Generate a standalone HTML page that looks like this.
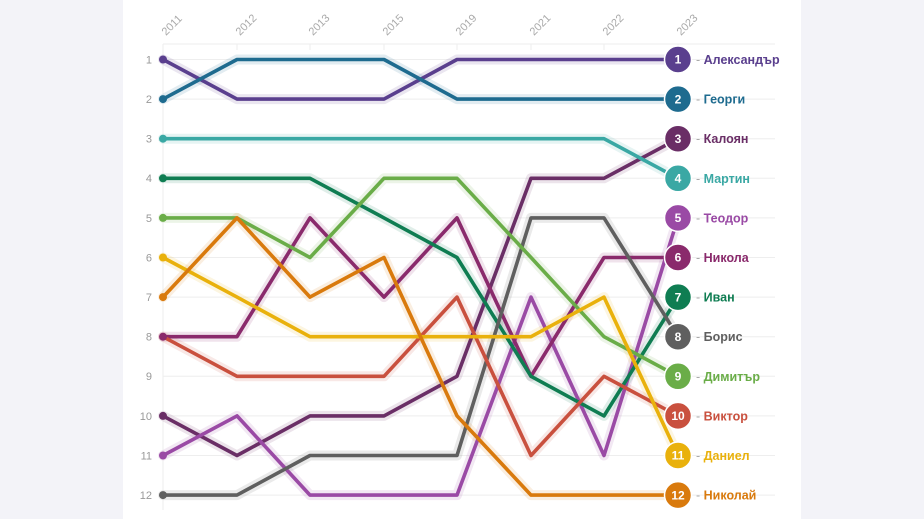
<!DOCTYPE html>
<html><head><meta charset="utf-8"><style>
html,body{margin:0;padding:0;background:#f3f3f8;}
svg{display:block;font-family:"Liberation Sans","DejaVu Sans",sans-serif;}
</style></head><body>
<svg width="924" height="519" viewBox="0 0 924 519" xmlns="http://www.w3.org/2000/svg">
<rect x="0" y="0" width="924" height="519" fill="#f3f3f8"/>
<rect x="123" y="0" width="678" height="519" fill="#ffffff"/>
<g stroke="#eeeeee" stroke-width="1">
<line x1="163" y1="44" x2="775" y2="44"/>
<line x1="163" y1="59.5" x2="775" y2="59.5"/><line x1="163" y1="99.1" x2="775" y2="99.1"/><line x1="163" y1="138.7" x2="775" y2="138.7"/><line x1="163" y1="178.3" x2="775" y2="178.3"/><line x1="163" y1="217.9" x2="775" y2="217.9"/><line x1="163" y1="257.5" x2="775" y2="257.5"/><line x1="163" y1="297.1" x2="775" y2="297.1"/><line x1="163" y1="336.7" x2="775" y2="336.7"/><line x1="163" y1="376.3" x2="775" y2="376.3"/><line x1="163" y1="415.9" x2="775" y2="415.9"/><line x1="163" y1="455.5" x2="775" y2="455.5"/><line x1="163" y1="495.1" x2="775" y2="495.1"/>
<line x1="163" y1="44" x2="163" y2="510"/>
<line x1="237" y1="44" x2="237" y2="50"/><line x1="310" y1="44" x2="310" y2="50"/><line x1="384" y1="44" x2="384" y2="50"/><line x1="457" y1="44" x2="457" y2="50"/><line x1="531" y1="44" x2="531" y2="50"/><line x1="604" y1="44" x2="604" y2="50"/><line x1="678" y1="44" x2="678" y2="50"/>
</g>
<g fill="#aaaaaa" font-size="11">
<text transform="translate(166,36) rotate(-45)">2011</text>
<text transform="translate(240,36) rotate(-45)">2012</text>
<text transform="translate(313,36) rotate(-45)">2013</text>
<text transform="translate(387,36) rotate(-45)">2015</text>
<text transform="translate(460,36) rotate(-45)">2019</text>
<text transform="translate(534,36) rotate(-45)">2021</text>
<text transform="translate(607,36) rotate(-45)">2022</text>
<text transform="translate(681,36) rotate(-45)">2023</text>
</g>
<g fill="#999999" font-size="11" text-anchor="end">
<text x="152" y="63.5">1</text><text x="152" y="103">2</text><text x="152" y="142.5">3</text><text x="152" y="182">4</text><text x="152" y="222">5</text><text x="152" y="261.5">6</text><text x="152" y="301">7</text><text x="152" y="340.5">8</text><text x="152" y="380">9</text><text x="152" y="420">10</text><text x="152" y="459.5">11</text><text x="152" y="499">12</text>
</g>
<g fill="none" stroke-linejoin="round" stroke-linecap="round">
<g stroke-width="10" stroke-opacity="0.13">
<polyline stroke="#5a3f8e" points="163,59.5 237,99.1 310,99.1 384,99.1 457,59.5 531,59.5 604,59.5 678,59.5"/>
<polyline stroke="#1e6b8f" points="163,99.1 237,59.5 310,59.5 384,59.5 457,99.1 531,99.1 604,99.1 678,99.1"/>
<polyline stroke="#6a2e66" points="163,415.9 237,455.5 310,415.9 384,415.9 457,376.3 531,178.3 604,178.3 678,138.7"/>
<polyline stroke="#3aa8a4" points="163,138.7 237,138.7 310,138.7 384,138.7 457,138.7 531,138.7 604,138.7 678,178.3"/>
<polyline stroke="#9a4aa5" points="163,455.5 237,415.9 310,495.1 384,495.1 457,495.1 531,297.1 604,455.5 678,217.9"/>
<polyline stroke="#8a2a6c" points="163,336.7 237,336.7 310,217.9 384,297.1 457,217.9 531,376.3 604,257.5 678,257.5"/>
<polyline stroke="#0f7d52" points="163,178.3 237,178.3 310,178.3 384,217.9 457,257.5 531,376.3 604,415.9 678,297.1"/>
<polyline stroke="#5f5f5f" points="163,495.1 237,495.1 310,455.5 384,455.5 457,455.5 531,217.9 604,217.9 678,336.7"/>
<polyline stroke="#6aad48" points="163,217.9 237,217.9 310,257.5 384,178.3 457,178.3 531,257.5 604,336.7 678,376.3"/>
<polyline stroke="#c9503e" points="163,336.7 237,376.3 310,376.3 384,376.3 457,297.1 531,455.5 604,376.3 678,415.9"/>
<polyline stroke="#e9b10c" points="163,257.5 237,297.1 310,336.7 384,336.7 457,336.7 531,336.7 604,297.1 678,455.5"/>
<polyline stroke="#d97a0d" points="163,297.1 237,217.9 310,297.1 384,257.5 457,415.9 531,495.1 604,495.1 678,495.1"/>
</g>
<g stroke-width="3.6">
<polyline stroke="#5a3f8e" points="163,59.5 237,99.1 310,99.1 384,99.1 457,59.5 531,59.5 604,59.5 678,59.5"/>
<polyline stroke="#1e6b8f" points="163,99.1 237,59.5 310,59.5 384,59.5 457,99.1 531,99.1 604,99.1 678,99.1"/>
<polyline stroke="#6a2e66" points="163,415.9 237,455.5 310,415.9 384,415.9 457,376.3 531,178.3 604,178.3 678,138.7"/>
<polyline stroke="#3aa8a4" points="163,138.7 237,138.7 310,138.7 384,138.7 457,138.7 531,138.7 604,138.7 678,178.3"/>
<polyline stroke="#9a4aa5" points="163,455.5 237,415.9 310,495.1 384,495.1 457,495.1 531,297.1 604,455.5 678,217.9"/>
<polyline stroke="#8a2a6c" points="163,336.7 237,336.7 310,217.9 384,297.1 457,217.9 531,376.3 604,257.5 678,257.5"/>
<polyline stroke="#0f7d52" points="163,178.3 237,178.3 310,178.3 384,217.9 457,257.5 531,376.3 604,415.9 678,297.1"/>
<polyline stroke="#5f5f5f" points="163,495.1 237,495.1 310,455.5 384,455.5 457,455.5 531,217.9 604,217.9 678,336.7"/>
<polyline stroke="#6aad48" points="163,217.9 237,217.9 310,257.5 384,178.3 457,178.3 531,257.5 604,336.7 678,376.3"/>
<polyline stroke="#c9503e" points="163,336.7 237,376.3 310,376.3 384,376.3 457,297.1 531,455.5 604,376.3 678,415.9"/>
<polyline stroke="#e9b10c" points="163,257.5 237,297.1 310,336.7 384,336.7 457,336.7 531,336.7 604,297.1 678,455.5"/>
<polyline stroke="#d97a0d" points="163,297.1 237,217.9 310,297.1 384,257.5 457,415.9 531,495.1 604,495.1 678,495.1"/>
</g>
</g>
<g>
<circle cx="163" cy="59.5" r="4" fill="#5a3f8e"/><circle cx="163" cy="99.1" r="4" fill="#1e6b8f"/><circle cx="163" cy="138.7" r="4" fill="#3aa8a4"/><circle cx="163" cy="178.3" r="4" fill="#0f7d52"/><circle cx="163" cy="217.9" r="4" fill="#6aad48"/><circle cx="163" cy="257.5" r="4" fill="#e9b10c"/><circle cx="163" cy="297.1" r="4" fill="#d97a0d"/><circle cx="163" cy="336.7" r="4" fill="#8a2a6c"/><circle cx="163" cy="415.9" r="4" fill="#6a2e66"/><circle cx="163" cy="455.5" r="4" fill="#9a4aa5"/><circle cx="163" cy="495.1" r="4" fill="#5f5f5f"/>
</g>
<g stroke="#ffffff" stroke-width="1.5">
<circle cx="678" cy="59.5" r="13.5" fill="#5a3f8e"/>
<circle cx="678" cy="99.1" r="13.5" fill="#1e6b8f"/>
<circle cx="678" cy="138.7" r="13.5" fill="#6a2e66"/>
<circle cx="678" cy="178.3" r="13.5" fill="#3aa8a4"/>
<circle cx="678" cy="217.9" r="13.5" fill="#9a4aa5"/>
<circle cx="678" cy="257.5" r="13.5" fill="#8a2a6c"/>
<circle cx="678" cy="297.1" r="13.5" fill="#0f7d52"/>
<circle cx="678" cy="336.7" r="13.5" fill="#5f5f5f"/>
<circle cx="678" cy="376.3" r="13.5" fill="#6aad48"/>
<circle cx="678" cy="415.9" r="13.5" fill="#c9503e"/>
<circle cx="678" cy="455.5" r="13.5" fill="#e9b10c"/>
<circle cx="678" cy="495.1" r="13.5" fill="#d97a0d"/>
</g>
<g fill="#ffffff" font-size="12" font-weight="bold" text-anchor="middle">
<text x="678" y="63.7">1</text><text x="678" y="103.3">2</text><text x="678" y="142.9">3</text><text x="678" y="182.5">4</text><text x="678" y="222.1">5</text><text x="678" y="261.7">6</text><text x="678" y="301.3">7</text><text x="678" y="340.9">8</text><text x="678" y="380.5">9</text><text x="678" y="420.1">10</text><text x="678" y="459.7">11</text><text x="678" y="499.3">12</text>
</g>
<g font-size="12.5" font-weight="bold">
<text x="696" y="64" fill="#5a3f8e"><tspan fill="#aaa" font-weight="normal">- </tspan>Александър</text>
<text x="696" y="103.6" fill="#1e6b8f"><tspan fill="#aaa" font-weight="normal">- </tspan>Георги</text>
<text x="696" y="143.2" fill="#6a2e66"><tspan fill="#aaa" font-weight="normal">- </tspan>Калоян</text>
<text x="696" y="182.8" fill="#3aa8a4"><tspan fill="#aaa" font-weight="normal">- </tspan>Мартин</text>
<text x="696" y="222.4" fill="#9a4aa5"><tspan fill="#aaa" font-weight="normal">- </tspan>Теодор</text>
<text x="696" y="262" fill="#8a2a6c"><tspan fill="#aaa" font-weight="normal">- </tspan>Никола</text>
<text x="696" y="301.6" fill="#0f7d52"><tspan fill="#aaa" font-weight="normal">- </tspan>Иван</text>
<text x="696" y="341.2" fill="#5f5f5f"><tspan fill="#aaa" font-weight="normal">- </tspan>Борис</text>
<text x="696" y="380.8" fill="#6aad48"><tspan fill="#aaa" font-weight="normal">- </tspan>Димитър</text>
<text x="696" y="420.4" fill="#c9503e"><tspan fill="#aaa" font-weight="normal">- </tspan>Виктор</text>
<text x="696" y="460" fill="#e9b10c"><tspan fill="#aaa" font-weight="normal">- </tspan>Даниел</text>
<text x="696" y="499.6" fill="#d97a0d"><tspan fill="#aaa" font-weight="normal">- </tspan>Николай</text>
</g>
</svg>
</body></html>
